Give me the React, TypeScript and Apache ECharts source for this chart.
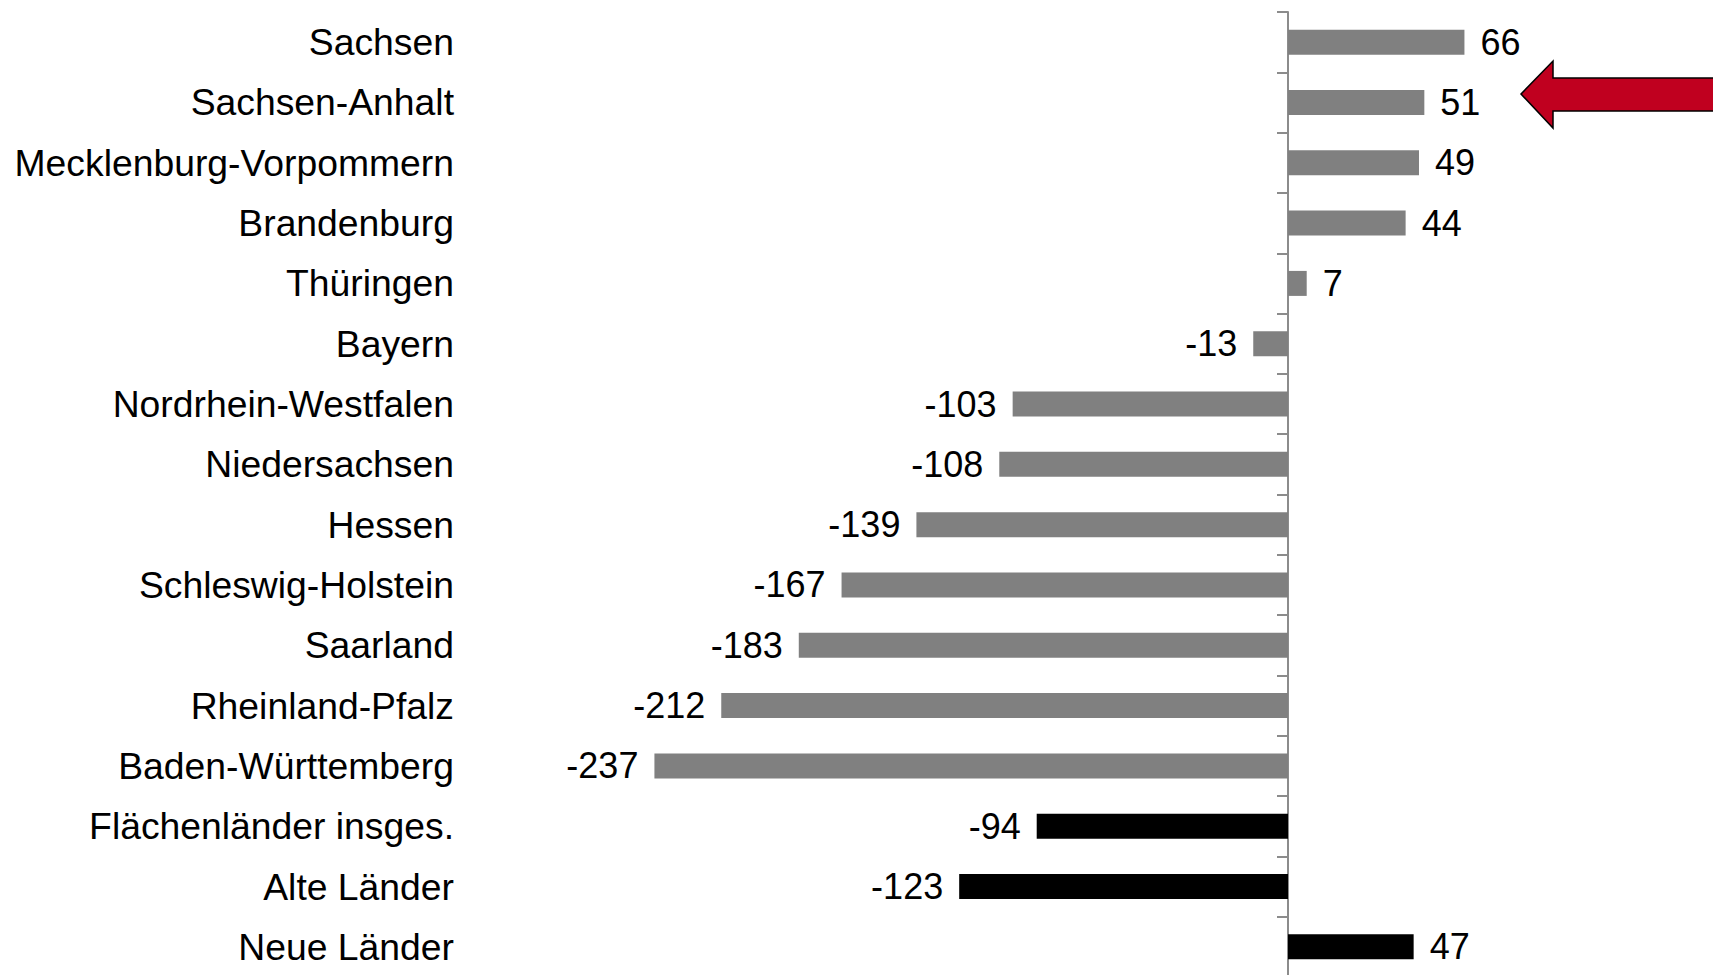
import React, { useEffect, useRef } from "react";
import * as echarts from "echarts";

const categories = [
  "Sachsen",
  "Sachsen-Anhalt",
  "Mecklenburg-Vorpommern",
  "Brandenburg",
  "Thüringen",
  "Bayern",
  "Nordrhein-Westfalen",
  "Niedersachsen",
  "Hessen",
  "Schleswig-Holstein",
  "Saarland",
  "Rheinland-Pfalz",
  "Baden-Württemberg",
  "Flächenländer insges.",
  "Alte Länder",
  "Neue Länder",
];

const values = [66, 51, 49, 44, 7, -13, -103, -108, -139, -167, -183, -212, -237, -94, -123, 47];

// true = aggregate (black), false = single state (gray)
const isAggregate = [
  false, false, false, false, false, false, false, false, false, false, false, false, false,
  true, true, true,
];

const FONT = "'Liberation Sans', Arial, sans-serif";

export default function App() {
  const ref = useRef<HTMLDivElement>(null);

  useEffect(() => {
    if (!ref.current) return;
    const chart = echarts.init(ref.current, null, { renderer: "svg" });

    const data = values.map((v, i) => ({
      value: v,
      itemStyle: { color: isAggregate[i] ? "#000000" : "#808080" },
      label: { position: v >= 0 ? "right" : "left" },
    }));

    chart.setOption({
      animation: false,
      backgroundColor: "#ffffff",
      grid: { left: 486, right: 24, top: 12, bottom: 0, containLabel: false },
      xAxis: {
        type: "value",
        min: -300,
        max: 150,
        interval: 50,
        show: false,
        splitLine: { show: false },
      },
      yAxis: [
        {
          type: "category",
          data: categories,
          inverse: true,
          position: "left",
          axisLine: { show: false, onZero: false },
          axisTick: { show: false },
          axisLabel: {
            color: "#000000",
            fontSize: 37.3,
            fontFamily: FONT,
            margin: 32,
          },
        },
        {
          type: "category",
          data: categories,
          inverse: true,
          position: "left",
          axisLine: { show: true, onZero: true, lineStyle: { color: "#8c8c8c", width: 2 } },
          axisTick: { show: true, length: 11, lineStyle: { color: "#8c8c8c", width: 2 } },
          axisLabel: { show: false },
        },
      ],
      series: [
        {
          type: "bar",
          yAxisIndex: 0,
          data,
          barWidth: 25,
          label: {
            show: true,
            distance: 16,
            color: "#000000",
            fontSize: 36,
            fontFamily: FONT,
          },
        },
      ],
      graphic: [
        {
          type: "polygon",
          shape: {
            points: [
              [1521, 94],
              [1553, 61],
              [1553, 78],
              [1716, 78],
              [1716, 111],
              [1553, 111],
              [1553, 128],
            ],
          },
          style: { fill: "#C0001F", stroke: "#000000", lineWidth: 1.5 },
          z: 10,
        },
      ],
    });

    return () => {
      chart.dispose();
    };
  }, []);

  return (
    <div
      style={{
        position: "fixed",
        top: 0,
        left: 0,
        width: 1713,
        height: 977,
        overflow: "hidden",
        background: "#ffffff",
      }}
    >
      <div ref={ref} style={{ width: 1713, height: 977 }} />
    </div>
  );
}
